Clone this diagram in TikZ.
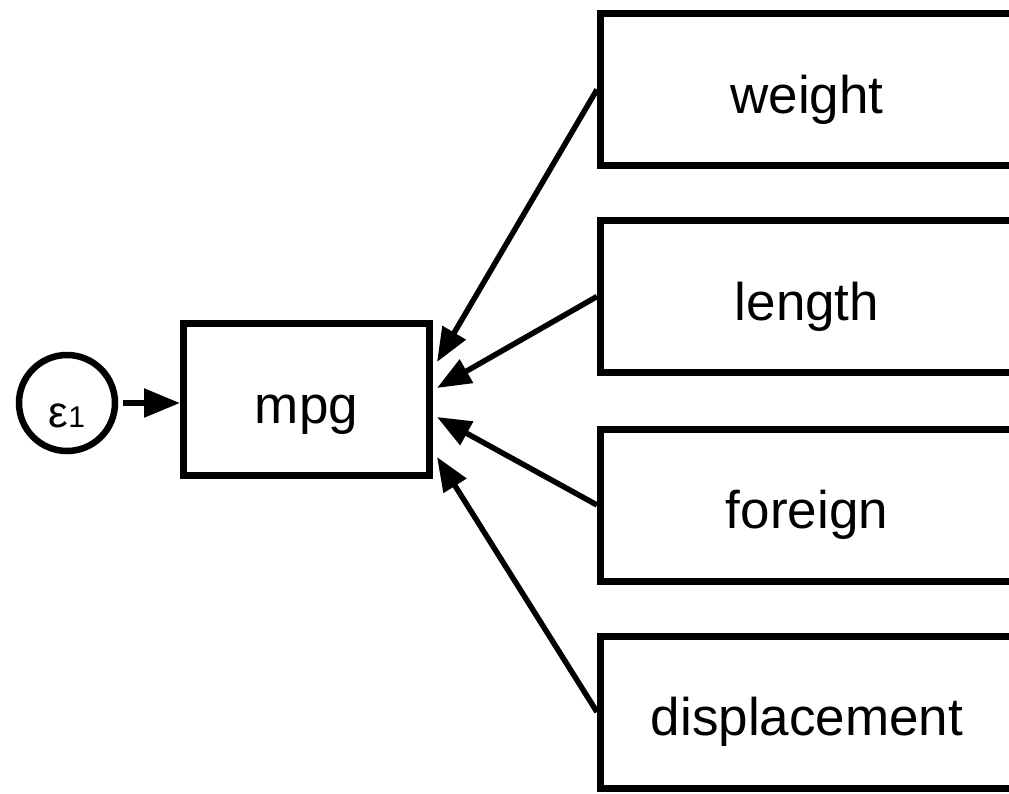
\documentclass[tikz,border=0pt]{standalone}
\usepackage{fontspec}
\setmainfont{Liberation Sans}
\usetikzlibrary{arrows.meta,calc}
\begin{document}
\begin{tikzpicture}[x=1pt,y=-1pt,
  varbox/.style={draw,line width=7pt,rectangle,minimum height=152pt,inner sep=0pt,
    font=\fontsize{53}{53}\selectfont,text height=47pt,text depth=0pt},
  obsbox/.style={varbox,minimum width=413pt},
  errc/.style={draw,circle,line width=6.5pt,minimum size=96pt,inner sep=0pt,
    text height=48pt,text depth=0pt},
  edgearrow/.style={line width=5.5pt,-{Triangle[length=34pt,width=26pt]}}
]
\useasboundingbox (0,0) rectangle (1009,793);
\clip (0,0) rectangle (1009,793);

\node[errc] (eps) at (67,403) {{\fontsize{44}{44}\selectfont ε}{\fontsize{30}{30}\selectfont 1}};
\node[varbox,minimum width=246pt] (mpg) at (306.5,399.5) {mpg};
\node[obsbox] (weight) at (807,89.5) {weight};
\node[obsbox] (length) at (807,296.5) {length};
\node[obsbox] (foreign) at (807,505) {foreign};
\node[obsbox] (disp) at (807,712) {displacement};

\coordinate (t1) at ($(mpg.east)+(4,-37.5)$);
\coordinate (t2) at ($(mpg.east)+(4,-11.5)$);
\coordinate (t3) at ($(mpg.east)+(4,17.5)$);
\coordinate (t4) at ($(mpg.east)+(4,57.5)$);

\draw[edgearrow,shorten <=5pt,-{Triangle[length=36pt,width=28pt]}] (eps.east) -- (eps.east -| mpg.west);
\draw[edgearrow] (weight.west) -- (t1);
\draw[edgearrow] (length.west) -- (t2);
\draw[edgearrow] (foreign.west) -- (t3);
\draw[edgearrow] (disp.west) -- (t4);
\end{tikzpicture}
\end{document}
